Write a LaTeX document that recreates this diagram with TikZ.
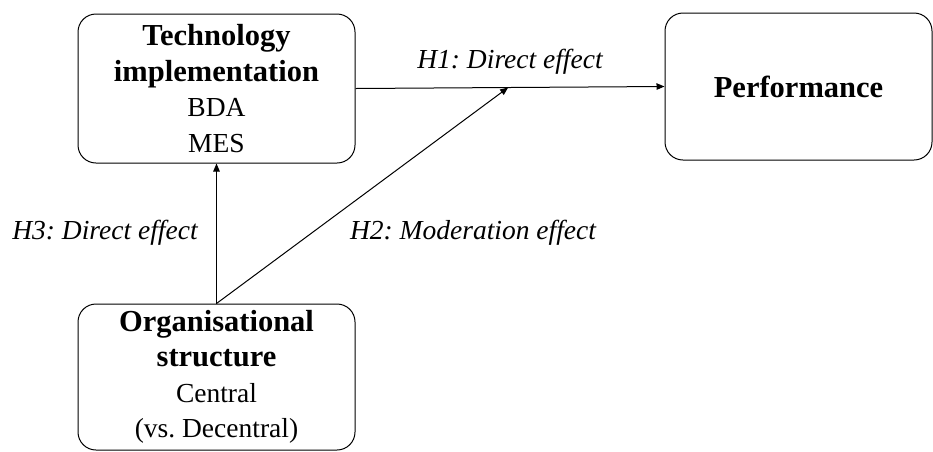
\documentclass[tikz,border=0pt]{standalone}
\usepackage{fontspec}
\setmainfont{Liberation Serif}
\usetikzlibrary{arrows.meta,calc}
\frenchspacing

\newcommand{\headfont}{\fontsize{30.5}{35}\selectfont\bfseries}

\tikzset{
  factor/.style={draw, line width=1pt, rounded corners=18pt, align=center,
    inner sep=0pt, font=\fontsize{27.5}{35.5}\selectfont},
  hyplabel/.style={font=\fontsize{27.5}{35}\selectfont\itshape, inner sep=0pt},
  effect/.style={line width=1pt, -{Triangle[length=8pt,width=6.5pt]}}
}

\begin{document}
\begin{tikzpicture}[x=1pt, y=-1pt]
        	\useasboundingbox (0,0) rectangle (933,451);
        	% Boxes:
        	\node[factor, minimum width=277pt, minimum height=149pt] (tech) at (216.5, 88.5)
        		{{\headfont Technology}\\{\headfont implementation}\\BDA\\MES};
        	\node[factor, minimum width=267pt, minimum height=147pt] (perf) at (798.5, 86.5)
        		{{\headfont Performance}};
        	\node[factor, minimum width=277pt, minimum height=146pt] (org) at (216.5, 377)
        		{{\headfont Organisational}\\{\headfont structure}\\Central\\(vs. Decentral)};
        	% Effects:
        	\coordinate (mod) at ($(tech.east)!0.494!(perf.west)$);
        	\draw[effect] (tech.east) -- (perf.west);
        	\draw[effect] (org.north) -- (tech.south);
        	\draw[effect] (org.north) -- (mod);
        	% Labels:
        	\node[hyplabel] (h1) at (510, 62) {H1: Direct effect};
        	\node[hyplabel] (h3) at (105, 233) {H3: Direct effect};
        	\node[hyplabel] (h2) at (473, 233) {H2: Moderation effect};
        \end{tikzpicture}
\end{document}
